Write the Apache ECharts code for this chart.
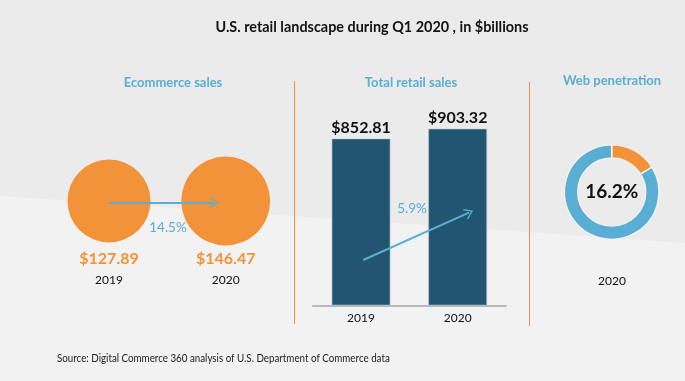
<!DOCTYPE html>
<html><head><meta charset="utf-8">
<script src="https://cdn.jsdelivr.net/npm/echarts@6/dist/echarts.min.js"></script>
<style>html,body{margin:0;padding:0;background:#ebebeb;}#c{width:685px;height:381px;}</style>
</head><body><div id="c"></div>
<script>
const years = ['2019', '2020'];
const ecommerceSales = [127.89, 146.47];
const ecommerceGrowth = '14.5%';
const totalRetailSales = [852.81, 903.32];
const retailGrowth = '5.9%';
const webPenetration = 16.2;
const webYear = '2020';

const FONT = 'Lato';
const ORANGE = '#f29339';
const BLUE = '#5aaed3';
const NAVY = '#225670';

const chevron = 'path://M0,0 L10,9 L8.6,10.4 L0,2.6 L-8.6,10.4 L-10,9 Z';

const chart = echarts.init(document.getElementById('c'));
chart.setOption({
  backgroundColor: '#ebebeb',
  animation: false,
  textStyle: { fontFamily: FONT },
  graphic: [
    { type: 'polygon', silent: true, z: -10, shape: { points: [[0,196],[685,243],[685,381],[0,381]] }, style: { fill: '#f2f2f2' } },
    { type: 'text', x: 372, y: 27, scaleX: 0.93, style: { text: 'U.S. retail landscape during Q1 2020 , in $billions', font: 'bold 15.5px Lato', fill: '#111', align: 'center', verticalAlign: 'middle' } },
    { type: 'text', x: 173, y: 83, style: { text: 'Ecommerce sales', font: 'bold 13px Lato', fill: BLUE, align: 'center', verticalAlign: 'middle' } },
    { type: 'text', x: 411, y: 83, style: { text: 'Total retail sales', font: 'bold 13px Lato', fill: BLUE, align: 'center', verticalAlign: 'middle' } },
    { type: 'text', x: 612, y: 81, style: { text: 'Web penetration', font: 'bold 13px Lato', fill: BLUE, align: 'center', verticalAlign: 'middle' } },
    { type: 'text', x: 168, y: 228, style: { text: ecommerceGrowth, font: '13.5px Lato', fill: BLUE, align: 'center', verticalAlign: 'middle' } },
    { type: 'text', x: 412, y: 209, style: { text: retailGrowth, font: '13.5px Lato', fill: BLUE, align: 'center', verticalAlign: 'middle' } },
    { type: 'text', x: 612, y: 281, style: { text: webYear, font: '12px Lato', fill: '#111', align: 'center', verticalAlign: 'middle' } },
    { type: 'line', shape: { x1: 294.5, y1: 81, x2: 294.5, y2: 324 }, style: { stroke: ORANGE, lineWidth: 1 } },
    { type: 'line', shape: { x1: 529.5, y1: 82, x2: 529.5, y2: 326 }, style: { stroke: ORANGE, lineWidth: 1 } },
    { type: 'text', x: 57, y: 358, scaleX: 0.85, style: { text: 'Source: Digital Commerce 360 analysis of U.S. Department of Commerce data', font: '11.5px Lato', fill: '#222', verticalAlign: 'middle' } }
  ],
  grid: [
    { left: 50.65, width: 233.4, top: 171, height: 60 },
    { left: 312.7, width: 193.3, top: 109.9, height: 195.4 }
  ],
  xAxis: [
    { gridIndex: 0, type: 'value', min: -0.5, max: 1.5, show: false },
    { gridIndex: 1, type: 'category', data: years,
      axisLine: { lineStyle: { color: '#a8a8a8', width: 1.5 } }, axisTick: { show: false },
      axisLabel: { color: '#111', fontSize: 12, fontFamily: FONT, margin: 7 } },
    { gridIndex: 1, type: 'value', min: 0, max: 2, show: false }
  ],
  yAxis: [
    { gridIndex: 0, type: 'value', min: -1, max: 1, show: false },
    { gridIndex: 1, type: 'value', min: 0, max: 1000, show: false }
  ],
  series: [
    {
      type: 'scatter', xAxisIndex: 0, yAxisIndex: 0,
      data: ecommerceSales.map((v, i) => [i, 0, v]),
      symbolSize: val => 7.34 * Math.sqrt(val[2]),
      itemStyle: { color: ORANGE, opacity: 1 },
      label: {
        show: true, position: 'inside', offset: [0, 68],
        formatter: p => '{v|$' + p.value[2].toFixed(2) + '}\n{y|' + years[p.dataIndex] + '}',
        rich: {
          v: { fontFamily: FONT, fontWeight: 'bold', fontSize: 16, color: ORANGE, lineHeight: 22, align: 'center' },
          y: { fontFamily: FONT, fontSize: 12, color: '#111', lineHeight: 20, align: 'center' }
        }
      },
      markLine: {
        silent: true, symbol: ['none', chevron], symbolSize: [11, 9],
        lineStyle: { color: BLUE, width: 2, type: 'solid' }, label: { show: false },
        data: [[{ coord: [0, -0.05] }, { coord: [0.9, -0.05] }]]
      },
      z: 3
    },
    {
      type: 'bar', xAxisIndex: 1, yAxisIndex: 1,
      data: totalRetailSales, barWidth: 58.6,
      itemStyle: { color: NAVY, borderColor: '#9fbccb', borderWidth: 0.6 },
      label: { show: true, position: 'top', distance: 3, formatter: p => '$' + p.value.toFixed(2),
        fontFamily: FONT, fontWeight: 'bold', fontSize: 16, color: '#111' }
    },
    {
      type: 'line', xAxisIndex: 2, yAxisIndex: 1, data: [], symbol: 'none',
      markLine: {
        silent: true, symbol: ['none', chevron], symbolSize: [11, 9],
        lineStyle: { color: BLUE, width: 2, type: 'solid' }, label: { show: false },
        data: [[{ coord: [0.523, 232] }, { coord: [1.617, 474] }]]
      },
      z: 4
    },
    {
      type: 'pie', center: [611.7, 192], radius: [34, 47.3], startAngle: 90, clockwise: true,
      silent: true,
      itemStyle: { borderColor: '#f2f2f2', borderWidth: 1.5 },
      label: { show: false }, labelLine: { show: false },
      data: [
        { value: webPenetration, itemStyle: { color: ORANGE },
          label: { show: true, position: 'center', formatter: p => p.value.toFixed(1) + '%',
            fontFamily: FONT, fontWeight: 'bold', fontSize: 19, color: '#111' } },
        { value: +(100 - webPenetration).toFixed(1), itemStyle: { color: BLUE } }
      ]
    }
  ]
});
</script></body></html>
